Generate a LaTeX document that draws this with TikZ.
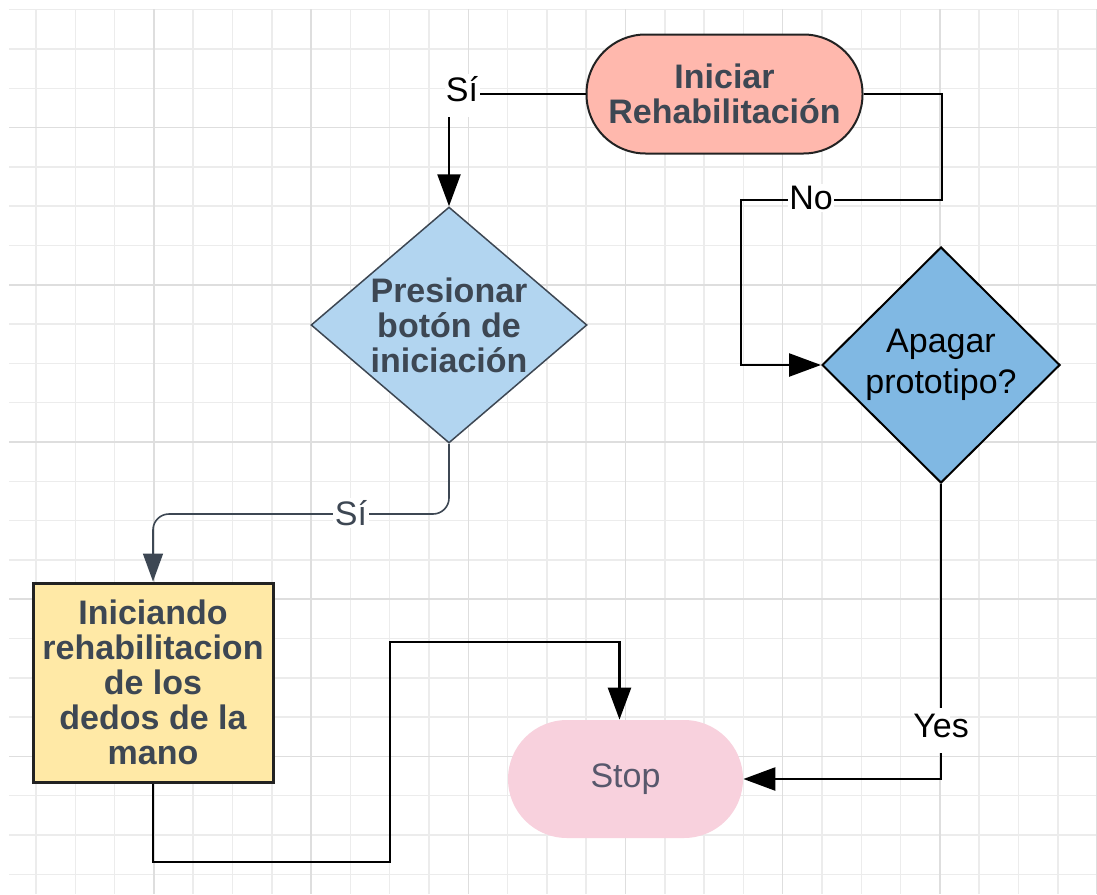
\documentclass[tikz,border=0pt]{standalone}
\usepackage{fontspec}
\setmainfont{Liberation Sans}
\usetikzlibrary{shapes.geometric,arrows.meta,calc}
\definecolor{gridc}{RGB}{236,236,236}
\definecolor{gridm}{RGB}{222,222,222}
\definecolor{slate}{RGB}{61,71,83}
\definecolor{startfill}{RGB}{255,184,173}
\definecolor{dafill}{RGB}{178,213,240}
\definecolor{dbfill}{RGB}{128,184,227}
\definecolor{yfill}{RGB}{255,233,166}
\definecolor{stopfill}{RGB}{248,209,221}
\definecolor{stoptext}{RGB}{88,88,108}
\definecolor{darkline}{RGB}{34,34,34}
\begin{document}
\begin{tikzpicture}[x=0.5pt,y=-0.5pt,
  gridline/.style={draw=gridc,line width=0.75pt},
  gridmajor/.style={draw=gridm,line width=0.75pt},
  boldtxt/.style={font=\bfseries\fontsize{17}{17.5}\selectfont,text=slate,align=center},
  plaintxt/.style={font=\fontsize{17}{20.5}\selectfont,align=center},
  startbox/.style={rectangle,rounded corners=29.5pt,minimum width=138pt,minimum height=59.5pt,
    fill=startfill,draw=darkline,line width=1pt,inner sep=0pt,boldtxt},
  stepdiamond/.style={diamond,inner sep=0pt},
  procbox/.style={rectangle,draw=darkline,line width=1.5pt,fill=yfill,minimum width=120pt,
    minimum height=99.5pt,inner sep=0pt,boldtxt},
  stopbox/.style={rectangle,rounded corners=29.5pt,fill=stopfill,minimum width=117.5pt,
    minimum height=59pt,inner sep=0pt,font=\fontsize{17}{20}\selectfont,text=stoptext},
  blk/.style={draw=black,line width=1.25pt,-{Triangle[length=16pt,width=11.5pt]}},
  slt/.style={draw=slate,line width=0.8pt,rounded corners=8pt,-{Triangle[length=14pt,width=10pt]}},
  lbl/.style={fill=white,inner sep=1pt,font=\fontsize{17}{20}\selectfont},
]
\useasboundingbox (0,0) rectangle (1097,894);
\fill[white] (0,0) rectangle (1097,894);
% grid
\foreach \k in {0,...,27}{
  \pgfmathsetmacro\xx{36+39.3*\k}
  \draw[gridline] (\xx,9) -- (\xx,894);
}
\foreach \k in {-1,...,21}{
  \pgfmathsetmacro\yy{49+39.3*\k}
  \draw[gridline] (9,\yy) -- (1097,\yy);
}
\foreach \k in {3,7,...,27}{
  \pgfmathsetmacro\xx{36+39.3*\k}
  \draw[gridmajor] (\xx,9) -- (\xx,894);
}
\foreach \k in {2,6,...,22}{
  \pgfmathsetmacro\yy{49+39.3*\k}
  \draw[gridmajor] (9,\yy) -- (1097,\yy);
}

% nodes
\node[startbox] (start) at (724.5,94) {Iniciar\\Rehabilitación};
\node[stepdiamond,draw=slate,fill=dafill,line width=0.75pt,minimum width=138pt,minimum height=118pt,
  label={[boldtxt]center:Presionar\\botón de\\iniciación}] (d1) at (449,325) {};
\node[stepdiamond,draw=black,fill=dbfill,line width=1pt,minimum width=119pt,minimum height=118pt,
  label={[plaintxt]center:Apagar\\prototipo?}] (d2) at (941,365) {};
\node[procbox] (box) at (153,682.5) {Iniciando\\rehabilitacion\\de los\\dedos de la\\mano};
\node[stopbox] (stop) at (625.5,779) {Stop};

% helper coordinates
\coordinate (m1) at (0,514);
\coordinate (b1) at (390,862);
\coordinate (b2) at (390,642);
\coordinate (c1) at (942,200);
\coordinate (c2) at (741,200);

% connectors
\draw[blk] (start.west) -| (d1.north);
\fill[white] (445,74) rectangle (480,117);
\node[lbl,fill=none] at (462,89) {Sí};

\draw[slt] (d1.south) |- (box.north |- m1) -- (box.north);
\node[lbl,text=slate] at (351,513) {Sí};

\draw[blk] (box.south) |- (b1) -- (b2) -| ($(stop.north)+(-6,0)$);

\draw[blk] (start.east) -| (c1) -- (c2) |- (d2.west);
\node[lbl,inner xsep=0.5pt] at (811,198) {No};

\draw[blk] (d2.south) |- (stop.east);
\fill[white] (932,708) rectangle (950,753);
\node[lbl,fill=none] at (941,726) {Yes};
\end{tikzpicture}
\end{document}
